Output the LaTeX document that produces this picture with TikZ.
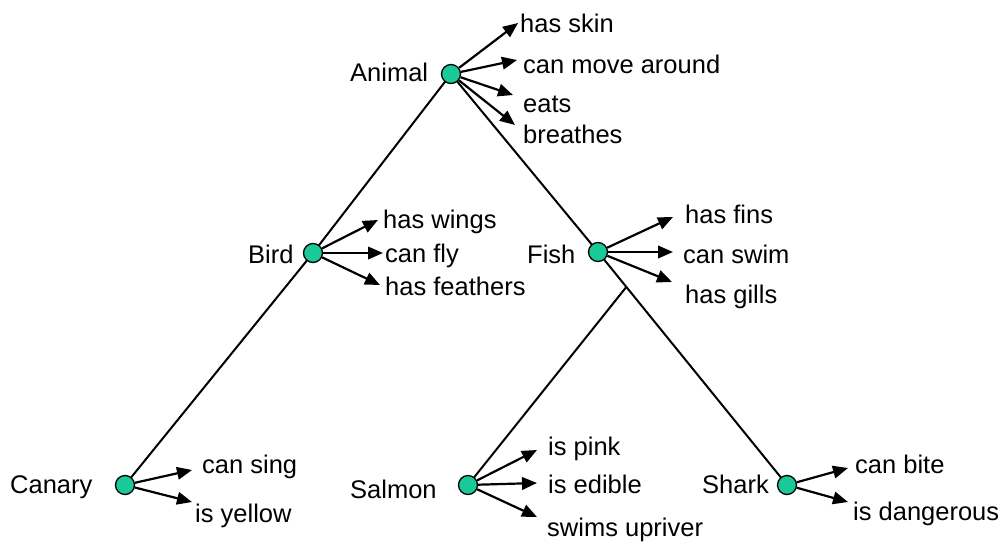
\documentclass[tikz,border=0pt]{standalone}
\usepackage{fontspec}
\setmainfont{Liberation Sans}
\usetikzlibrary{arrows.meta,calc,backgrounds}
\definecolor{conceptFill}{HTML}{1AC99A}

\begin{document}
\begin{tikzpicture}[x=1pt,y=-1pt,
    concept/.style={circle, draw=black, line width=1.3pt, fill=conceptFill,
                    minimum size=19pt, inner sep=0pt},
    word/.style={anchor=base west, inner sep=0pt, font=\fontsize{25.5}{30}\selectfont},
    isa/.style={line width=2pt},
    has/.style={line width=2.2pt, -{Triangle[length=15pt,width=12.5pt]}}]
  \useasboundingbox (0,0) rectangle (1006,541);
  % concepts
  \node[concept] (animal) at (451,74) {};
  \node[concept] (bird)   at (313,253) {};
  \node[concept] (fish)   at (598,252) {};
  \node[concept] (canary) at (125,485) {};
  \node[concept] (salmon) at (468,485) {};
  \node[concept] (shark)  at (787,485) {};
  \node[word] (animalLbl) at (350,81)  {Animal};
  \node[word] (birdLbl)   at (248,263) {Bird};
  \node[word] (fishLbl)   at (527,263) {Fish};
  \node[word] (canaryLbl) at (10,493)  {Canary};
  \node[word] (salmonLbl) at (350,498) {Salmon};
  \node[word] (sharkLbl)  at (702,493) {Shark};
  % isa links
  \coordinate (fork) at ($(fish)!0.15!(shark)$);
  \begin{scope}[on background layer]
    \draw[isa] (animal.center) -- (bird.center) -- (canary.center);
    \draw[isa] (animal.center) -- (fish.center) -- (shark.center);
    \draw[isa] (fork) -- (salmon.center);
  \end{scope}
  % properties
  \foreach \src/\nm/\ax/\ay/\tx/\ty/\txt in {
      animal/skin/518/23/520/32/has skin,
      animal/move/517/60/523/73/can move around,
      animal/eats/513/95/523/112/eats,
      animal/breathes/515/125/523/143/breathes,
      bird/wings/378/220/383/228/has wings,
      bird/fly/383/253/385/262/can fly,
      bird/feathers/380/285/385/295/has feathers,
      fish/fins/673/217/685/223/has fins,
      fish/swim/673/252/683/263/can swim,
      fish/gills/672/282/685/303/has gills,
      canary/sing/192/470/202/473/can sing,
      canary/yellow/192/502/195/522/is yellow,
      salmon/pink/537/450/548/455/is pink,
      salmon/edible/537/483/548/493/is edible,
      salmon/upriver/537/517/547/536/swims upriver,
      shark/bite/848/468/855/473/can bite,
      shark/dangerous/848/502/853/520/is dangerous}{
    \node[word] (\nm) at (\tx,\ty) {\txt};
    \coordinate (\nm Tip) at (\ax,\ay);
    \draw[has] (\src) -- (\nm Tip);
  }
\end{tikzpicture}
\end{document}
